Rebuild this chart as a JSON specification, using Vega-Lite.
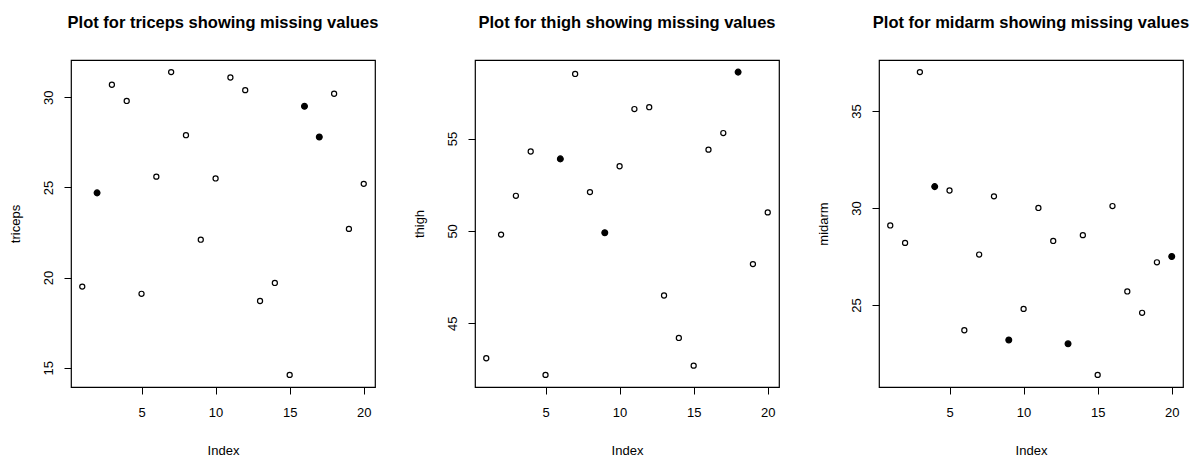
{
  "$schema": "https://vega.github.io/schema/vega-lite/v6.json",
  "background": "white",
  "padding": {"left": 8, "top": 13, "right": 0, "bottom": 0},
  "bounds": "flush",
  "spacing": 100,
  "data": {"values": [
    {"index": 1, "triceps": 19.5, "triceps_missing": false, "thigh": 43.1, "thigh_missing": false, "midarm": 29.1, "midarm_missing": false},
    {"index": 2, "triceps": 24.7, "triceps_missing": true, "thigh": 49.8, "thigh_missing": false, "midarm": 28.2, "midarm_missing": false},
    {"index": 3, "triceps": 30.7, "triceps_missing": false, "thigh": 51.9, "thigh_missing": false, "midarm": 37.0, "midarm_missing": false},
    {"index": 4, "triceps": 29.8, "triceps_missing": false, "thigh": 54.3, "thigh_missing": false, "midarm": 31.1, "midarm_missing": true},
    {"index": 5, "triceps": 19.1, "triceps_missing": false, "thigh": 42.2, "thigh_missing": false, "midarm": 30.9, "midarm_missing": false},
    {"index": 6, "triceps": 25.6, "triceps_missing": false, "thigh": 53.9, "thigh_missing": true, "midarm": 23.7, "midarm_missing": false},
    {"index": 7, "triceps": 31.4, "triceps_missing": false, "thigh": 58.5, "thigh_missing": false, "midarm": 27.6, "midarm_missing": false},
    {"index": 8, "triceps": 27.9, "triceps_missing": false, "thigh": 52.1, "thigh_missing": false, "midarm": 30.6, "midarm_missing": false},
    {"index": 9, "triceps": 22.1, "triceps_missing": false, "thigh": 49.9, "thigh_missing": true, "midarm": 23.2, "midarm_missing": true},
    {"index": 10, "triceps": 25.5, "triceps_missing": false, "thigh": 53.5, "thigh_missing": false, "midarm": 24.8, "midarm_missing": false},
    {"index": 11, "triceps": 31.1, "triceps_missing": false, "thigh": 56.6, "thigh_missing": false, "midarm": 30.0, "midarm_missing": false},
    {"index": 12, "triceps": 30.4, "triceps_missing": false, "thigh": 56.7, "thigh_missing": false, "midarm": 28.3, "midarm_missing": false},
    {"index": 13, "triceps": 18.7, "triceps_missing": false, "thigh": 46.5, "thigh_missing": false, "midarm": 23.0, "midarm_missing": true},
    {"index": 14, "triceps": 19.7, "triceps_missing": false, "thigh": 44.2, "thigh_missing": false, "midarm": 28.6, "midarm_missing": false},
    {"index": 15, "triceps": 14.6, "triceps_missing": false, "thigh": 42.7, "thigh_missing": false, "midarm": 21.4, "midarm_missing": false},
    {"index": 16, "triceps": 29.5, "triceps_missing": true, "thigh": 54.4, "thigh_missing": false, "midarm": 30.1, "midarm_missing": false},
    {"index": 17, "triceps": 27.8, "triceps_missing": true, "thigh": 55.3, "thigh_missing": false, "midarm": 25.7, "midarm_missing": false},
    {"index": 18, "triceps": 30.2, "triceps_missing": false, "thigh": 58.6, "thigh_missing": true, "midarm": 24.6, "midarm_missing": false},
    {"index": 19, "triceps": 22.7, "triceps_missing": false, "thigh": 48.2, "thigh_missing": false, "midarm": 27.2, "midarm_missing": false},
    {"index": 20, "triceps": 25.2, "triceps_missing": false, "thigh": 51.0, "thigh_missing": false, "midarm": 27.5, "midarm_missing": true}
  ]},
  "config": {
    "font": "Liberation Sans",
    "view": {"stroke": "black", "strokeWidth": 1.2},
    "axis": {
      "grid": false, "domain": false,
      "tickColor": "black", "tickSize": 7, "tickWidth": 1,
      "labelFont": "Liberation Sans", "labelFontSize": 13, "labelColor": "black",
      "titleFont": "Liberation Sans", "titleFontSize": 13, "titleFontWeight": "normal", "titleColor": "black"
    },
    "axisX": {"labelPadding": 12, "titlePadding": 25, "labelFlush": false},
    "axisY": {"labelAngle": 270, "labelAlign": "center", "labelBaseline": "bottom", "labelPadding": 9, "titlePadding": 20, "labelFlush": false},
    "title": {"font": "Liberation Sans", "fontSize": 16.5, "fontWeight": "bold", "color": "black", "anchor": "middle", "offset": 29}
  },
  "hconcat": [
    {
      "width": 304, "height": 327,
      "title": "Plot for triceps showing missing values",
      "mark": {"type": "point", "shape": "circle", "stroke": "black", "strokeWidth": 1.2, "opacity": 1},
      "encoding": {
        "x": {"field": "index", "type": "quantitative", "scale": {"domain": [0.24, 20.76], "nice": false, "zero": false}, "axis": {"values": [5, 10, 15, 20], "title": "Index"}},
        "y": {"field": "triceps", "type": "quantitative", "scale": {"domain": [13.928, 32.072], "nice": false, "zero": false}, "axis": {"values": [15, 20, 25, 30], "title": "triceps"}},
        "fill": {"condition": {"test": "datum.triceps_missing", "value": "black"}, "value": "transparent"},
        "size": {"condition": {"test": "datum.triceps_missing", "value": 34}, "value": 26}
      }
    },
    {
      "width": 304, "height": 327,
      "title": "Plot for thigh showing missing values",
      "mark": {"type": "point", "shape": "circle", "stroke": "black", "strokeWidth": 1.2, "opacity": 1},
      "encoding": {
        "x": {"field": "index", "type": "quantitative", "scale": {"domain": [0.24, 20.76], "nice": false, "zero": false}, "axis": {"values": [5, 10, 15, 20], "title": "Index"}},
        "y": {"field": "thigh", "type": "quantitative", "scale": {"domain": [41.544, 59.256], "nice": false, "zero": false}, "axis": {"values": [45, 50, 55], "title": "thigh"}},
        "fill": {"condition": {"test": "datum.thigh_missing", "value": "black"}, "value": "transparent"},
        "size": {"condition": {"test": "datum.thigh_missing", "value": 34}, "value": 26}
      }
    },
    {
      "width": 304, "height": 327,
      "title": "Plot for midarm showing missing values",
      "mark": {"type": "point", "shape": "circle", "stroke": "black", "strokeWidth": 1.2, "opacity": 1},
      "encoding": {
        "x": {"field": "index", "type": "quantitative", "scale": {"domain": [0.24, 20.76], "nice": false, "zero": false}, "axis": {"values": [5, 10, 15, 20], "title": "Index"}},
        "y": {"field": "midarm", "type": "quantitative", "scale": {"domain": [20.776, 37.624], "nice": false, "zero": false}, "axis": {"values": [25, 30, 35], "title": "midarm"}},
        "fill": {"condition": {"test": "datum.midarm_missing", "value": "black"}, "value": "transparent"},
        "size": {"condition": {"test": "datum.midarm_missing", "value": 34}, "value": 26}
      }
    }
  ]
}
